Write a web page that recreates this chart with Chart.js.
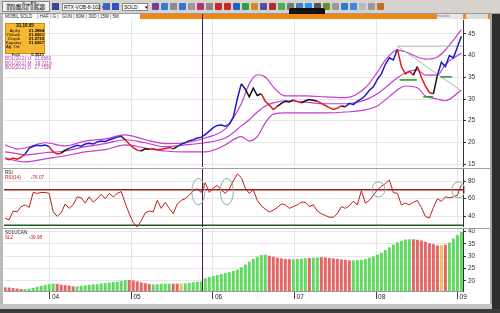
<!DOCTYPE html>
<html>
<head>
<meta charset="utf-8">
<script src="https://cdn.jsdelivr.net/npm/chart.js@4.4.1/dist/chart.umd.min.js"></script>
<style>
  body { margin: 0; width: 500px; height: 313px; overflow: hidden; background: #fff; position: relative;
         font-family: "Liberation Sans", Arial, sans-serif; }
  .a { position: absolute; }
  canvas { position: absolute; }
  .t { position: absolute; white-space: pre; line-height: 1; }
</style>
</head>
<body>
<!-- window chrome -->
<div class="a" style="left:0;top:0;width:500px;height:14px;background:#d6d3ce;border-bottom:1px solid #9a9a9a;box-sizing:border-box"></div>
<div class="t" style="left:2px;top:1px;width:48px;height:11px;background:#f3f3f3;border:1px solid #888;box-sizing:border-box;font-size:10px;font-weight:bold;letter-spacing:0.5px;color:#fff;-webkit-text-stroke:0.6px #333;text-align:center">matriks</div>
<div class="a" style="left:52px;top:3px;width:7px;height:7px;background:#334a8c"></div>
<div class="t" style="left:62px;top:3px;width:38px;height:8px;background:#fff;border:1px solid #888;box-sizing:border-box;font-size:5px;padding:1px">RTX-VOB-8-102 ▾</div>
<div class="a" style="left:103px;top:3px;width:7px;height:7px;background:#3a62c8"></div>
<div class="a" style="left:112px;top:3px;width:7px;height:7px;background:#2e55b8"></div>
<div class="t" style="left:122px;top:3px;width:26px;height:8px;background:#fff;border:1px solid #888;box-sizing:border-box;font-size:5px;padding:1px">SOLD     ▾</div>
<div id="icons"></div>
<div class="t" style="left:289px;top:8px;width:36px;height:8px;background:#111;border-radius:2px;color:#ddd;font-size:4px;padding:2px 3px;box-sizing:border-box">· · · · · · · · · ·</div>

<!-- tab row -->
<div class="a" style="left:3px;top:14px;width:489px;height:6px;background:#fff"></div>
<div class="t" style="left:5px;top:15px;font-size:4.5px;color:#223">MOBIL SOLD    | HAF | G |   GUN | 60M | 30D | 15M | 5M</div>
<div class="a" style="left:140px;top:14px;width:352px;height:5px;background:#ef8616"></div>
<div class="t" style="left:437px;top:14px;width:26px;height:5px;background:#e8e8e8;font-size:4px;color:#777">matriks</div>
<div class="a" style="left:466px;top:14px;width:22px;height:5px;background:#dcdcdc"></div>

<!-- frame -->
<div class="a" style="left:0;top:14px;width:3px;height:292px;background:#b9b9b9"></div>
<div class="a" style="left:490px;top:14px;width:2px;height:292px;background:#a8a8a8"></div>
<div class="a" style="left:492px;top:14px;width:8px;height:299px;background:#2e2e2e"></div>
<div class="a" style="left:3px;top:168px;width:487px;height:1px;background:#a0a0a0"></div>
<div class="a" style="left:3px;top:228px;width:487px;height:1px;background:#a0a0a0"></div>
<div class="a" style="left:0;top:304px;width:492px;height:5px;background:#c4c4c4"></div>
<div class="a" style="left:0;top:309px;width:500px;height:4px;background:#3b3b3b"></div>
<div class="a" style="left:202px;top:14px;width:1px;height:6px;background:#4a1450"></div>

<canvas id="cPrice" width="486" height="147" style="left:4px;top:20px"></canvas>
<canvas id="cRsi" width="486" height="58" style="left:4px;top:169px"></canvas>
<canvas id="cSol" width="486" height="75" style="left:4px;top:229px"></canvas>

<!-- panel texts -->
<div class="a" style="left:5px;top:23px;width:40px;height:31px;background:#f6b733;border:1px solid #d38a12;box-sizing:border-box"></div>
<div class="t" style="left:6px;top:24px;width:38px;text-align:center;font-size:4.5px;font-weight:bold">31.10.05</div>
<div class="t" style="left:6px;top:28.5px;width:14px;text-align:right;font-size:4.2px;line-height:4.1px">Açılış
Yüksek
Düşük
Kapanış
Ağ. Ort.

Fark</div>
<div class="t" style="left:22px;top:28.5px;width:22px;text-align:right;font-size:4.2px;line-height:4.1px;font-weight:bold">21.3884
21.6061
21.2730
21.6267


0.3521</div>
<div class="t" style="left:5px;top:57px;font-size:4.6px;line-height:4.7px;color:#b03aa5">BOL(20,2) U:  21.6682
BOL(20,2) M:  19.7219
BOL(20,2) D:  17.7596</div>
<div class="t" style="left:5px;top:171px;font-size:4.6px;color:#222">RSI</div>
<div class="t" style="left:5px;top:175.5px;font-size:4.6px;color:#c02020">RSI(14)</div>
<div class="t" style="left:31px;top:175.5px;font-size:4.6px;color:#c02020">‹76.07</div>
<div class="t" style="left:5px;top:231px;font-size:4.6px;color:#222">SOLUCAN</div>
<div class="t" style="left:5px;top:235.5px;font-size:4.6px;color:#c02020">SL2</div>
<div class="t" style="left:29px;top:235.5px;font-size:4.6px;color:#c02020">‹39.98</div>

<script>
// axis ticks
const yearTicks = [2004, 2005, 2006, 2007, 2008, 2009];
const yearLabels = ['04', '05', '06', '07', '08', '09'];
const priceTicks = [15, 20, 25, 30, 35, 40, 45];
const rsiTicks = [40, 60, 80];
const solTicks = [20, 25, 30, 35, 40];

// samples run from mid 2003, roughly every 18 days
const sampleStart = 2003.45;
const sampleStep = 0.0491;

const close = [
  16.3, 16.0, 16.4, 16.1, 16.6, 17.3, 18.6, 19.1, 19.3, 19.2,
  19.4, 19.0, 17.8, 17.3, 17.5, 18.2, 18.6, 19.0, 19.3, 19.1,
  19.6, 19.8, 19.6, 20.1, 20.3, 20.2, 20.6, 20.9, 21.2, 21.4,
  20.6, 19.6, 18.8, 18.2, 18.0, 18.5, 18.4, 18.5, 18.3, 18.4,
  18.6, 18.8, 18.5, 19.0, 19.6, 19.9, 20.4, 20.6, 21.0, 21.2,
  21.8, 22.6, 23.4, 23.9, 24.0, 23.7, 24.2, 25.8, 30.0, 33.5,
  32.3, 30.5, 32.5, 30.8, 31.2, 29.5, 28.6, 27.6, 28.3, 29.0,
  29.5, 29.3, 29.8, 29.4, 29.1, 29.6, 29.9, 29.7, 29.5, 29.0,
  28.5, 28.0, 27.6, 27.9, 28.4, 28.2, 29.0, 28.7, 29.5, 30.0,
  30.8, 32.0, 32.8, 34.5, 35.8, 38.0, 39.5, 39.0, 41.5, 37.5,
  35.8, 36.4, 35.5, 37.5, 35.0, 33.0, 31.5, 31.2, 35.5, 38.5,
  37.5, 40.0, 39.5, 42.0, 44.5
];
// r = falling, b = rising, k = neutral
const closeTrend = ('rrrrrr' + 'bbbbbb' + 'rrr' + 'kk' + 'bbbbbbbbbbbbb' + 'k' + 'rrrr' + 'kk' +
  'rrrrrr' + 'k' + 'bbbbbbbbbbbbbbbb' + 'kkkkk' + 'rrrr' + 'kkkk' + 'rr' + 'kkkk' + 'rrrrrr' + 'k' +
  'bbbbbbbbbbbbb' + 'rrrr' + 'k' + 'rrrr' + 'k' + 'bbbbbb').split('');

// Bollinger (20,2), read at these sample positions
const bandIdx = [0, 3, 5, 10, 15, 20, 25, 30, 35, 40, 45, 50, 55, 57, 59, 61, 63, 65, 67, 70, 75, 80, 85, 90, 93, 95, 98, 100, 103, 105, 108, 110, 114];
const bolUpper = [19.4, 18.5, 18.7, 19.9, 19.2, 20.3, 20.8, 21.7, 20.6, 19.7, 19.9, 21.0, 23.1, 25.6, 28.9, 33.5, 35.6, 35.1, 32.8, 30.7, 30.7, 30.5, 30.3, 32.6, 36.2, 39.0, 41.3, 40.9, 39.7, 39.2, 39.7, 41.3, 46.0];
const bolMid   = [17.8, 17.4, 17.1, 17.6, 18.0, 19.0, 19.7, 20.6, 19.9, 19.0, 19.4, 19.9, 21.0, 22.2, 23.8, 25.2, 27.0, 28.4, 29.1, 29.6, 29.3, 28.9, 28.9, 29.8, 31.2, 32.6, 34.9, 36.0, 36.7, 35.5, 35.5, 38.0, 40.6];
const bolLow   = [16.4, 15.7, 15.5, 16.2, 16.9, 17.8, 18.3, 19.4, 18.7, 18.0, 17.8, 17.8, 19.4, 20.6, 21.3, 20.3, 21.3, 24.5, 26.5, 26.8, 26.8, 26.8, 27.0, 27.5, 28.4, 29.8, 32.1, 33.0, 32.6, 30.7, 30.0, 29.6, 32.1];

const rsi = [
  37.7, 36, 46, 45, 51, 53, 50, 67, 66, 67,
  67, 66, 45, 40, 44, 54, 49, 53, 62, 61,
  55, 62, 56, 60, 65, 60, 66, 62, 66, 68,
  55, 43, 33, 28, 35, 44, 46, 45, 58, 49,
  56, 49, 43, 54, 58, 60, 64, 69, 71, 67,
  78, 67, 72, 75, 70, 66, 71, 80, 88, 84,
  72, 66, 70, 58, 52, 48, 45, 47, 50, 54,
  53, 49, 51, 53, 56, 56, 51, 53, 46, 43,
  41, 39, 39, 43, 51, 49, 52, 57, 53, 69,
  55, 58, 64, 70, 74, 77, 81, 67, 66, 53,
  55, 53, 56, 58, 50, 40, 38, 50, 60, 57,
  62, 61, 62, 64, 76
];
const rsiHigh = 70;
const rsiLow = 30;

const solucan = [
  17.3, 17.2, 17.0, 16.8, 16.6, 16.6, 16.8, 17.1, 17.5, 17.9,
  18.3, 18.6, 18.8, 18.7, 18.4, 18.2, 18.0, 17.7, 17.7, 17.9,
  18.1, 18.3, 18.5, 18.6, 18.9, 19.1, 19.3, 19.5, 19.6, 19.9,
  20.2, 20.3, 20.1, 19.7, 19.3, 19.0, 18.7, 18.5, 18.6, 18.7,
  18.8, 18.8, 18.8, 18.8, 18.8, 18.9, 19.1, 19.4, 19.6, 19.7,
  21.0, 21.5, 21.9, 22.3, 22.7, 23.1, 23.5, 24.0, 24.5, 25.5,
  26.6, 27.8, 28.9, 29.8, 30.5, 30.6, 30.2, 29.8, 29.4, 29.1,
  28.9, 28.8, 28.7, 28.9, 29.0, 29.2, 29.3, 29.4, 29.5, 29.6,
  29.5, 29.3, 29.1, 28.9, 28.7, 28.5, 28.3, 28.3, 28.4, 28.5,
  28.9, 29.4, 29.9, 30.6, 31.4, 32.5, 33.6, 34.8, 35.7, 36.3,
  36.8, 36.9, 36.9, 36.7, 36.4, 35.9, 35.3, 34.9, 34.4, 34.5,
  34.7, 35.6, 37.2, 38.6, 39.9
];
// g = up, r = down, o = flat
const solucanTrend = ('rrrrr' + 'gggggggg' + 'rrrrr' + 'ggggggggggggg' + 'rrrrrr' + 'ggggg' + 'rr' + 'o' +
  'ggggggggggggggggggggg' + 'rrrrrr' + 'gggg' + 'r' + 'gg' + 'rrrrrrrr' + 'ggggggggggggggg' +
  'rrrrrrr' + 'o' + 'r' + 'gggg').split('');

const cursorYear = 2005.87;
const supports = [[2008.29, 2008.50, 34.4], [2008.58, 2008.70, 30.5], [2008.79, 2008.93, 35.1]];
const trendLines = [[2008.26, 42.2, 2009.07, 42.2], [2008.26, 42.2, 2009.03, 32.1]];
const rsiMarks = [[2005.82, 53, 83], [2006.17, 53, 83], [2008.03, 62, 79], [2009.01, 61, 79]];

// toolbar icons
const iconColors = ['#7a3d9a', '#2f7fd0', '#8a8a8a', '#3a6fd8', '#999', '#b0307a', '#888', '#c62828', '#c62828', '#1565c0',
  '#2e9a4a', '#d08a20', '#5050a0', '#b03030', '#4caf50', '#777', '#3f7fbf', '#2196f3', '#555', '#6a8f3a', '#999', '#2a7ad0', '#3a8ae0', '#bbb', '#999', '#c07020'];
const iconBox = document.getElementById('icons');
iconColors.forEach((c, i) => {
  const d = document.createElement('div');
  d.className = 'a';
  d.style.cssText = `left:${152 + i * 9}px;top:3px;width:7px;height:7px;background:${c};border-radius:1px`;
  iconBox.appendChild(d);
});

Chart.defaults.font.family = '"Liberation Sans", Arial, sans-serif';
Chart.defaults.animation = false;
Chart.defaults.responsive = false;
Chart.defaults.devicePixelRatio = 1;

const xMin = 2003.436, xMax = 2009.067;
const xs = close.map((_, i) => sampleStart + i * sampleStep);
const pts = arr => arr.map((v, i) => ({ x: xs[i], y: v }));
const bandPts = arr => arr.map((v, k) => ({ x: xs[bandIdx[k]], y: v }));

const trendColor = { r: '#e01c1c', b: '#1c1ccc', k: '#111111' };
const solColor = { g: '#63d963', r: '#e06868', o: '#e9c35a' };

function xScale(showLabels) {
  return {
    type: 'linear', min: xMin, max: xMax, offset: false,
    afterBuildTicks: s => { s.ticks = yearTicks.map(v => ({ value: v })); },
    afterFit: s => { s.height = showLabels ? 13 : 0; s.paddingLeft = 0; s.paddingRight = 0; },
    grid: { color: '#e6e6e6', offset: false, drawTicks: showLabels, tickLength: 8, tickColor: '#444' },
    border: { display: showLabels, color: '#999' },
    ticks: {
      display: showLabels, align: 'start', labelOffset: 2, padding: -6,
      font: { size: 6.5 }, color: '#222',
      callback: v => yearLabels[yearTicks.indexOf(v)]
    }
  };
}

function yScale(min, max, ticks) {
  return {
    position: 'right', min, max,
    afterBuildTicks: s => { s.ticks = ticks.map(v => ({ value: v })); },
    afterFit: s => { s.width = 27; s.paddingTop = 0; s.paddingBottom = 0; },
    grid: { color: '#e6e6e6', tickLength: 3, tickColor: '#333' },
    border: { color: '#333' },
    ticks: { font: { size: 6.5 }, color: '#333', padding: 2 }
  };
}

const cursorPlugin = {
  id: 'cursor',
  afterDatasetsDraw(chart) {
    const c = chart.ctx;
    const x = Math.round(chart.scales.x.getPixelForValue(cursorYear)) + 0.5;
    c.save();
    c.strokeStyle = '#4a1450';
    c.lineWidth = 1;
    c.beginPath();
    c.moveTo(x, 0);
    c.lineTo(x, chart.chartArea.bottom);
    c.stroke();
    c.restore();
  }
};

const line = (data, color, width, extra) => Object.assign({
  type: 'line', data, borderColor: color, borderWidth: width, pointRadius: 0, fill: false
}, extra || {});

// price panel
new Chart(document.getElementById('cPrice'), {
  type: 'line',
  data: {
    datasets: [
      line(pts(close), '#111', 1.5, {
        segment: { borderColor: s => trendColor[closeTrend[s.p1DataIndex]] || '#111' }
      }),
      ...supports.map(s => line([{ x: s[0], y: s[2] }, { x: s[1], y: s[2] }], '#2f9a2f', 1.6)),
      ...trendLines.map(t => line([{ x: t[0], y: t[1] }, { x: t[2], y: t[3] }], '#a3bea3', 1)),
      line(bandPts(bolUpper), '#c63ccc', 1.2, { cubicInterpolationMode: 'monotone' }),
      line(bandPts(bolMid), '#c63ccc', 1.2, { cubicInterpolationMode: 'monotone' }),
      line(bandPts(bolLow), '#c63ccc', 1.2, { cubicInterpolationMode: 'monotone' })
    ]
  },
  options: {
    layout: { padding: 0 },
    plugins: { legend: { display: false }, tooltip: { enabled: false } },
    scales: { x: xScale(false), y: yScale(14.31, 48.23, priceTicks) }
  },
  plugins: [cursorPlugin]
});

// RSI panel
const ellipsePlugin = {
  id: 'rsiMarks',
  afterDatasetsDraw(chart) {
    const c = chart.ctx, sx = chart.scales.x, sy = chart.scales.y;
    c.save();
    c.strokeStyle = '#86b3a6';
    c.lineWidth = 1;
    rsiMarks.forEach(m => {
      const cx = sx.getPixelForValue(m[0]);
      const y1 = sy.getPixelForValue(m[2]), y2 = sy.getPixelForValue(m[1]);
      c.beginPath();
      c.ellipse(cx, (y1 + y2) / 2, 6.5, (y2 - y1) / 2, 0, 0, Math.PI * 2);
      c.stroke();
    });
    c.restore();
  }
};

new Chart(document.getElementById('cRsi'), {
  type: 'line',
  data: {
    datasets: [
      line(pts(rsi), '#c41a1a', 1),
      line([{ x: xMin, y: rsiHigh }, { x: xMax, y: rsiHigh }], '#9a1c1c', 1.5),
      line([{ x: xMin, y: rsiLow }, { x: xMax, y: rsiLow }], '#1d5e1d', 1.5)
    ]
  },
  options: {
    layout: { padding: 0 },
    plugins: { legend: { display: false }, tooltip: { enabled: false } },
    scales: { x: xScale(false), y: yScale(27.9, 93.6, rsiTicks) }
  },
  plugins: [cursorPlugin, ellipsePlugin]
});

// SOLUCAN panel
new Chart(document.getElementById('cSol'), {
  type: 'bar',
  data: {
    datasets: [{
      data: pts(solucan),
      backgroundColor: solucanTrend.map(k => solColor[k]),
      barPercentage: 0.75,
      categoryPercentage: 1
    }]
  },
  options: {
    layout: { padding: 0 },
    plugins: { legend: { display: false }, tooltip: { enabled: false } },
    scales: { x: xScale(true), y: yScale(15.8, 41.1, solTicks) }
  },
  plugins: [cursorPlugin]
});
</script>
</body>
</html>
